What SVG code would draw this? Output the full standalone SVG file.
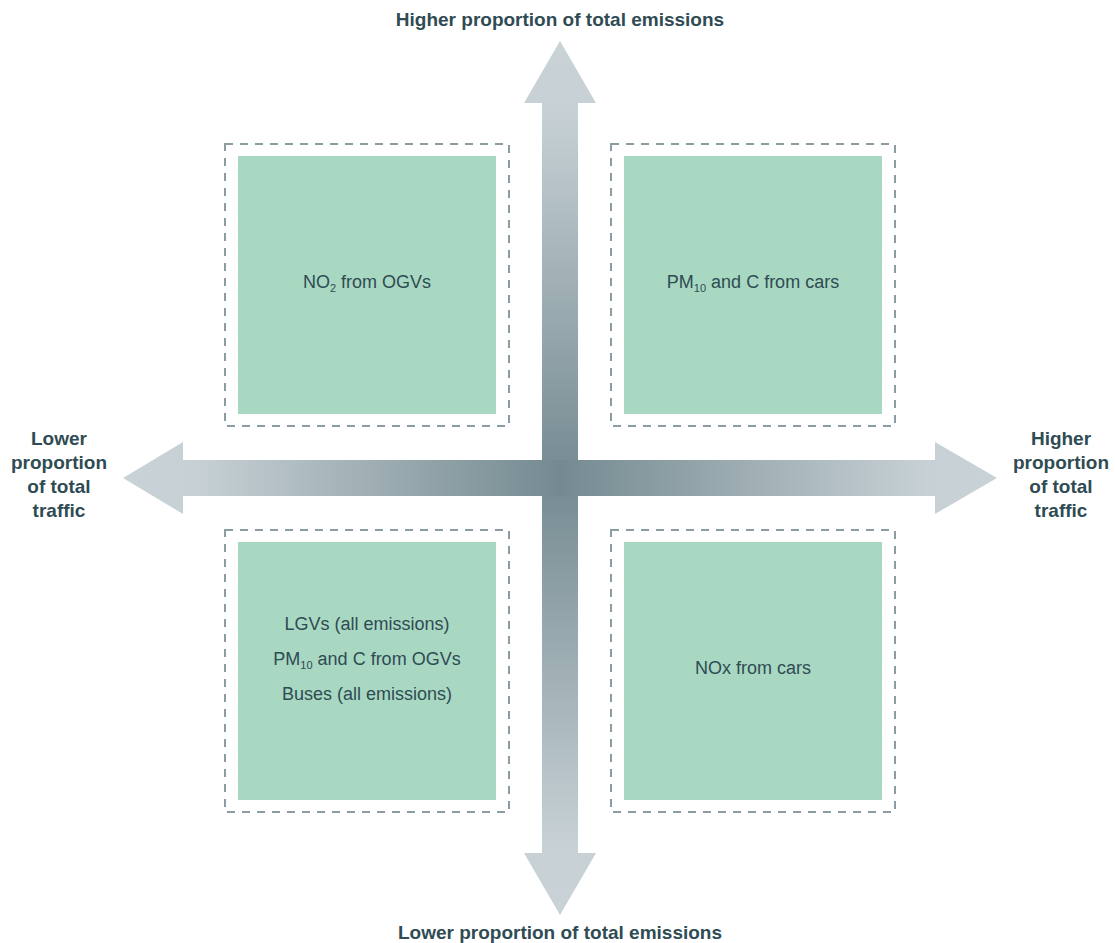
<svg xmlns="http://www.w3.org/2000/svg" width="1115" height="943" viewBox="0 0 1115 943">
  <defs>
    <linearGradient id="gh" gradientUnits="userSpaceOnUse" x1="123" y1="0" x2="997" y2="0">
      <stop offset="0" stop-color="#c9d3d7"/>
      <stop offset="0.08" stop-color="#c7d1d5"/>
      <stop offset="0.5" stop-color="#748a91"/>
      <stop offset="0.92" stop-color="#c7d1d5"/>
      <stop offset="1" stop-color="#c9d3d7"/>
    </linearGradient>
    <linearGradient id="gv" gradientUnits="userSpaceOnUse" x1="0" y1="41" x2="0" y2="915">
      <stop offset="0" stop-color="#c9d3d7"/>
      <stop offset="0.08" stop-color="#c7d1d5"/>
      <stop offset="0.5" stop-color="#748a91"/>
      <stop offset="0.92" stop-color="#c7d1d5"/>
      <stop offset="1" stop-color="#c9d3d7"/>
    </linearGradient>
    <style>
      .frame { fill: none; stroke: #8b9ca2; stroke-width: 2; stroke-dasharray: 8 7; }
      .box { fill: #a8d8c2; }
      .t { font-family: "Liberation Sans", Arial, sans-serif; font-size: 18px; fill: #2f4b53; text-anchor: middle; }
      .lab { font-family: "Liberation Sans", Arial, sans-serif; font-size: 19px; font-weight: bold; fill: #2f4b53; text-anchor: middle; }
      .sub { font-size: 11px; }
    </style>
  </defs>
  <rect width="1115" height="943" fill="#ffffff"/>

  <g id="connectors">
    <polygon id="axis-vertical" fill="url(#gv)" points="560,41 596,103 578,103 578,853 596,853 560,915 524,853 542,853 542,103 524,103"/>
    <polygon id="axis-horizontal" fill="url(#gh)" points="123,478 183,442 183,460 935,460 935,442 997,478 935,514 935,496 183,496 183,514"/>
  </g>

  <g id="label-top">
    <text class="lab" x="560" y="26">Higher proportion of total emissions</text>
  </g>
  <g id="label-bottom">
    <text class="lab" x="560" y="939">Lower proportion of total emissions</text>
  </g>
  <g id="label-left">
    <text class="lab" x="59" y="445">Lower</text>
    <text class="lab" x="59" y="469">proportion</text>
    <text class="lab" x="59" y="493">of total</text>
    <text class="lab" x="59" y="517">traffic</text>
  </g>
  <g id="label-right">
    <text class="lab" x="1061" y="445">Higher</text>
    <text class="lab" x="1061" y="469">proportion</text>
    <text class="lab" x="1061" y="493">of total</text>
    <text class="lab" x="1061" y="517">traffic</text>
  </g>

  <g id="quadrant-top-left">
    <rect class="frame" x="225" y="144" width="284" height="282"/>
    <rect class="box" x="238" y="156" width="258" height="258"/>
    <text class="t" x="367" y="288">NO<tspan class="sub" dy="4">2</tspan><tspan dy="-4"> from OGVs</tspan></text>
  </g>

  <g id="quadrant-top-right">
    <rect class="frame" x="611" y="144" width="284" height="282"/>
    <rect class="box" x="624" y="156" width="258" height="258"/>
    <text class="t" x="753" y="288">PM<tspan class="sub" dy="4">10</tspan><tspan dy="-4"> and C from cars</tspan></text>
  </g>

  <g id="quadrant-bottom-left">
    <rect class="frame" x="225" y="530" width="284" height="282"/>
    <rect class="box" x="238" y="542" width="258" height="258"/>
    <text class="t" x="367" y="630">LGVs (all emissions)</text>
    <text class="t" x="367" y="665">PM<tspan class="sub" dy="4">10</tspan><tspan dy="-4"> and C from OGVs</tspan></text>
    <text class="t" x="367" y="700">Buses (all emissions)</text>
  </g>

  <g id="quadrant-bottom-right">
    <rect class="frame" x="611" y="530" width="284" height="282"/>
    <rect class="box" x="624" y="542" width="258" height="258"/>
    <text class="t" x="753" y="674">NOx from cars</text>
  </g>
</svg>
